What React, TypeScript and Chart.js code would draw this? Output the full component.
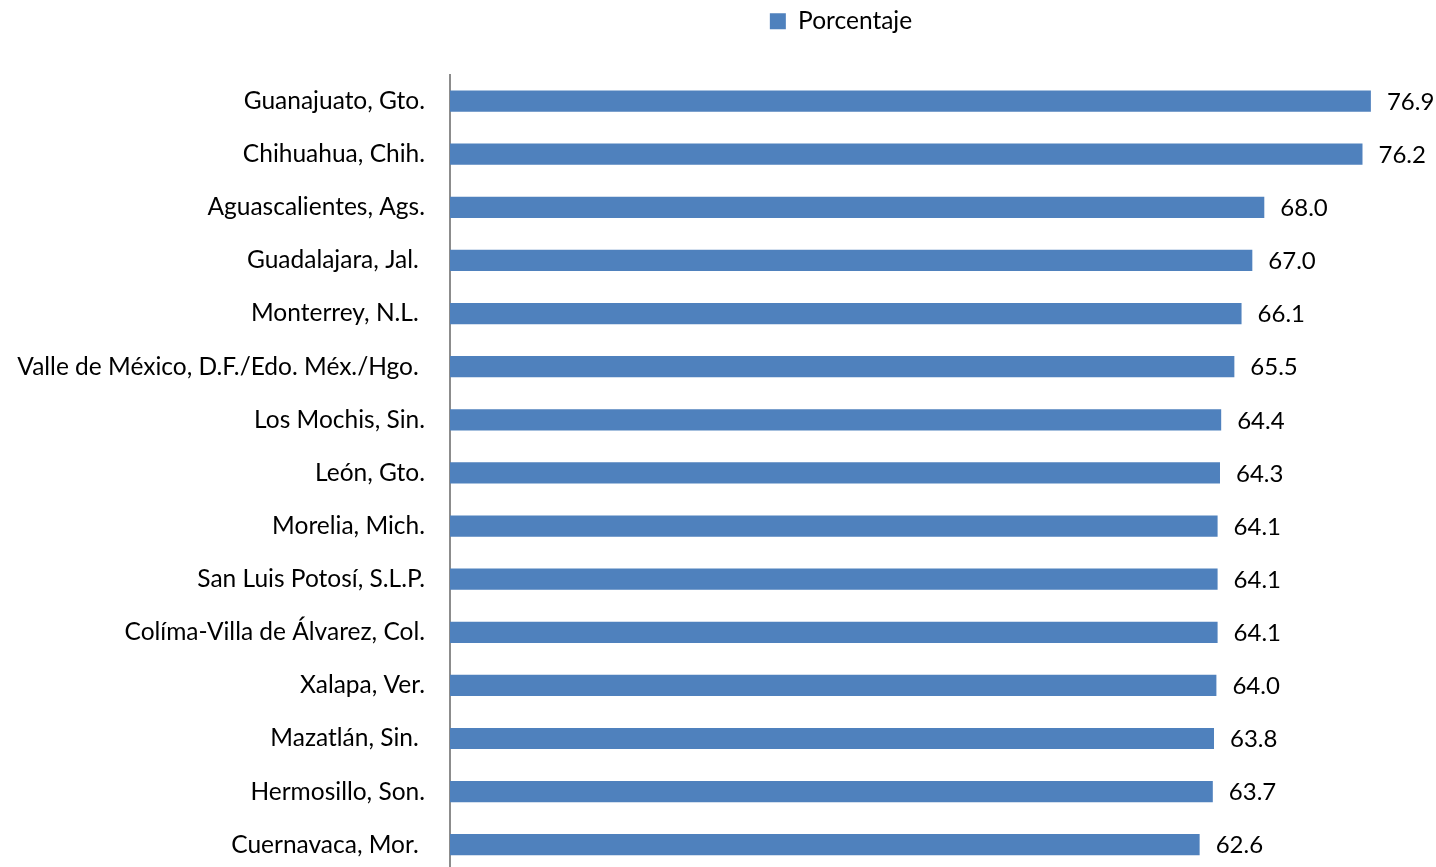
import React, { useEffect, useRef } from "react";
import { Chart, registerables } from "chart.js";

Chart.register(...registerables);

const categories = [
  "Guanajuato, Gto.",
  "Chihuahua, Chih.",
  "Aguascalientes, Ags.",
  "Guadalajara, Jal. ",
  "Monterrey, N.L. ",
  "Valle de México, D.F./Edo. Méx./Hgo. ",
  "Los Mochis, Sin.",
  "León, Gto.",
  "Morelia, Mich.",
  "San Luis Potosí, S.L.P.",
  "Colíma-Villa de Álvarez, Col.",
  "Xalapa, Ver.",
  "Mazatlán, Sin. ",
  "Hermosillo, Son.",
  "Cuernavaca, Mor. ",
];

const porcentaje = [76.9, 76.2, 68.0, 67.0, 66.1, 65.5, 64.4, 64.3, 64.1, 64.1, 64.1, 64.0, 63.8, 63.7, 62.6];

const seriesLabel = "Porcentaje";
const FONT = "Lato, 'Open Sans', sans-serif";
const BAR = "#4F81BD";

const W = 1436;
const H = 911;

const valueLabels = {
  id: "valueLabels",
  afterDatasetsDraw(chart: any) {
    const ctx = chart.ctx;
    const meta = chart.getDatasetMeta(0);
    ctx.save();
    ctx.font = `24px ${FONT}`;
    ctx.fillStyle = "#000";
    ctx.textAlign = "left";
    ctx.textBaseline = "middle";
    meta.data.forEach((bar: any, i: number) => {
      const v = chart.data.datasets[0].data[i] as number;
      ctx.fillText(v.toFixed(1), bar.x + 16, bar.y + 1);
    });
    ctx.restore();
  },
};

const legendTweak = {
  id: "legendTweak",
  beforeUpdate(chart: any) {
    const lg = chart.legend;
    if (lg && !lg.__patched) {
      const orig = lg.fit.bind(lg);
      lg.fit = function () {
        orig();
        this.height += 31;
      };
      lg.__patched = true;
    }
  },
  afterLayout(chart: any) {
    const lg = chart.legend;
    if (lg) {
      lg.left = 246;
      lg.right = chart.width;
    }
  },
};

export default function App() {
  const ref = useRef<HTMLCanvasElement>(null);
  useEffect(() => {
    if (!ref.current) return;
    const chart = new Chart(ref.current, {
      type: "bar",
      data: {
        labels: categories,
        datasets: [
          {
            label: seriesLabel,
            data: porcentaje,
            backgroundColor: BAR,
            borderColor: BAR,
            borderWidth: 0,
            barPercentage: 0.8,
            categoryPercentage: 0.5,
          },
        ],
      },
      options: {
        indexAxis: "y",
        responsive: false,
        animation: false,
        layout: { padding: { left: 0, right: 28, top: 0, bottom: 0 } },
        plugins: {
          legend: {
            display: true,
            position: "top",
            labels: {
              font: { family: FONT, size: 24.5 },
              color: "#000",
              boxWidth: 16,
              boxHeight: 16,
              padding: 9,
            },
          },
          tooltip: { enabled: false },
        },
        scales: {
          x: {
            display: false,
            min: 0,
            max: 80,
          },
          y: {
            afterFit: (scale: any) => {
              scale.width = 450;
            },
            grid: { display: false, drawTicks: false },
            border: { display: true, color: "#8c8c8c", width: 2 },
            ticks: {
              padding: 25,
              color: "#000",
              font: { family: FONT, size: 24.5 },
            },
          },
        },
      },
      plugins: [legendTweak, valueLabels],
    });
    return () => chart.destroy();
  }, []);
  return (
    <div style={{ position: "fixed", left: 0, top: 0, width: W, height: 867, overflow: "hidden", background: "#fff" }}>
      <canvas ref={ref} width={W} height={H} style={{ display: "block" }} />
    </div>
  );
}
